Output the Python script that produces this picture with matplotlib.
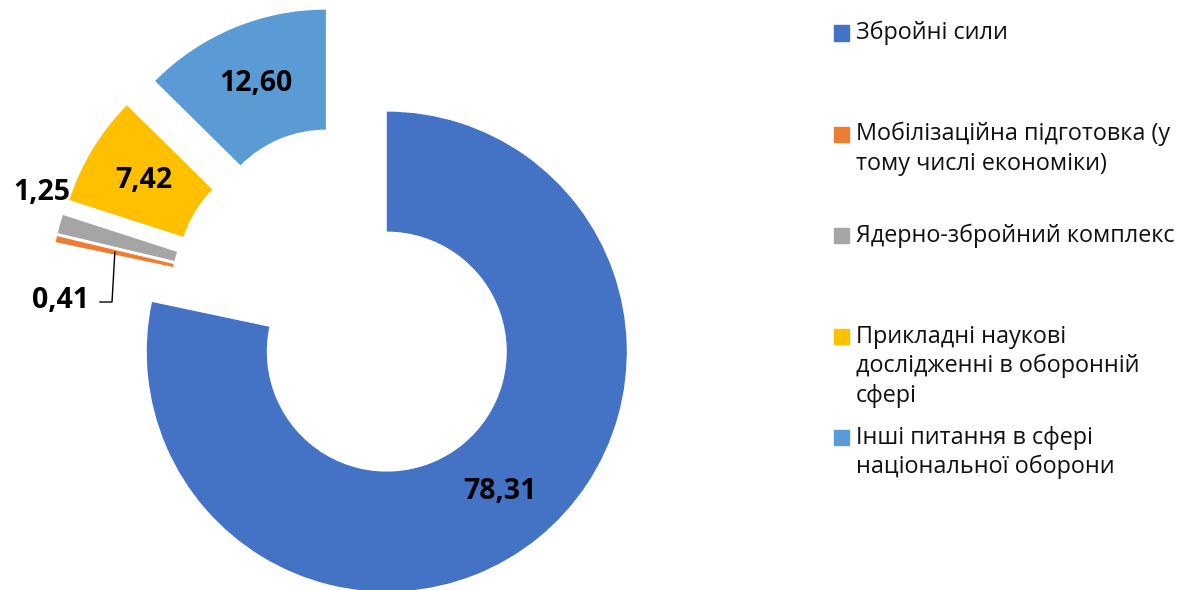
import matplotlib.pyplot as plt
import numpy as np
from matplotlib.patches import Rectangle

plt.rcParams['font.family'] = ['Open Sans', 'DejaVu Sans']

categories = [
    'Збройні сили',
    'Мобілізаційна підготовка (у\nтому числі економіки)',
    'Ядерно-збройний комплекс',
    'Прикладні наукові\nдослідженні в оборонній\nсфері',
    'Інші питання в сфері\nнаціональної оборони',
]
values = [78.31, 0.41, 1.25, 7.42, 12.60]
value_labels = ['78,31', '0,41', '1,25', '7,42', '12,60']
colors = ['#4472C4', '#ED7D31', '#A5A5A5', '#FFC000', '#5B9BD5']

W, H = 1182, 590
fig = plt.figure(figsize=(W / 100, H / 100), dpi=100)
ax = fig.add_axes([0, 0, 1, 1])

wedges, _ = ax.pie(values, colors=colors, startangle=90, counterclock=False,
                   explode=[0.25] * len(values), radius=1,
                   wedgeprops=dict(width=0.5, linewidth=0))

# centre of the ring sits at pixel (349, 305), radius 240 px
cx, cy, R = 349, 305, 240
ax.set_xlim(-cx / R, (W - cx) / R)
ax.set_ylim(-(H - cy) / R, cy / R)
ax.set_aspect('auto')
ax.axis('off')


def mid_point(w, r):
    t = np.deg2rad((w.theta1 + w.theta2) / 2)
    return w.center[0] + r * np.cos(t), w.center[1] + r * np.sin(t)


lbl_font = dict(fontsize=20.5, fontweight='bold', color='black',
                ha='center', va='center')

for i in [0, 3, 4]:
    x, y = mid_point(wedges[i], 0.75)
    ax.text(x, y, value_labels[i], **lbl_font)

# small slices: labels outside
ax.text(-1.28, 0.47, value_labels[2], **lbl_font)
ax.text(-1.20, 0.02, value_labels[1], **lbl_font)
sx, sy = mid_point(wedges[1], 0.75)
ax.plot([sx, -0.9875, -1.0375], [sy, 0.0125, 0.0125], color='black', lw=1)

# legend, drawn by hand so every entry starts on an even step
for i, (lab, col) in enumerate(zip(categories, colors)):
    y0 = 33 + 101.2 * i
    fig.patches.append(Rectangle((834 / W, 1 - (y0 + 7.5) / H), 15 / W, 15 / H,
                                 transform=fig.transFigure, color=col))
    for k, line in enumerate(lab.split('\n')):
        fig.text(856 / W, 1 - (y0 + 29.5 * k) / H, line, fontsize=16.8,
                 ha='left', va='center', color='#111111')

fig.savefig('out.png', dpi=100)
